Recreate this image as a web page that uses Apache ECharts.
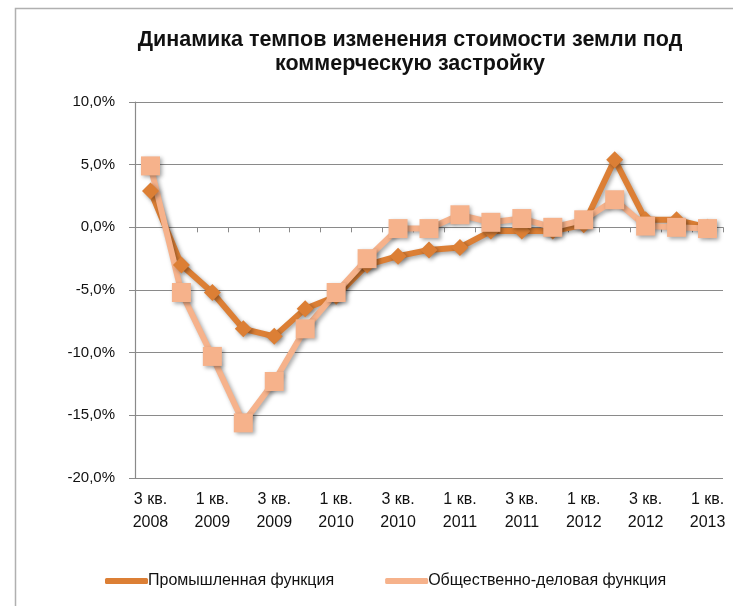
<!DOCTYPE html>
<html><head><meta charset="utf-8">
<script src="https://cdn.jsdelivr.net/npm/echarts@6/dist/echarts.min.js"></script>
<style>html,body{margin:0;padding:0;background:#fff}#c{width:733px;height:606px}</style>
</head><body><div id="c"></div>
<script>
var titleText = 'Динамика темпов изменения стоимости земли под\nкоммерческую застройку';
var categories = ['3 кв.\n2008','4 кв.\n2008','1 кв.\n2009','2 кв.\n2009','3 кв.\n2009','4 кв.\n2009',
  '1 кв.\n2010','2 кв.\n2010','3 кв.\n2010','4 кв.\n2010','1 кв.\n2011','2 кв.\n2011','3 кв.\n2011',
  '4 кв.\n2011','1 кв.\n2012','2 кв.\n2012','3 кв.\n2012','4 кв.\n2012','1 кв.\n2013'];
var seriesNames = ['Промышленная функция','Общественно-деловая функция'];
var industrial = [2.9,-3.0,-5.2,-8.1,-8.7,-6.5,-5.5,-3.0,-2.3,-1.8,-1.6,-0.3,-0.3,-0.3,0.2,5.4,0.6,0.6,0.0];
var business   = [4.9,-5.2,-10.3,-15.6,-12.3,-8.1,-5.2,-2.5,-0.1,-0.1,1.0,0.4,0.7,0.0,0.6,2.2,0.1,0.0,-0.1];
var yMin = -20, yMax = 10, yStep = 5;

var chart = echarts.init(document.getElementById('c'), null, {renderer:'canvas'});
var labelFont = 'Liberation Sans, Arial, sans-serif';
var shadow = {shadowColor:'rgba(0,0,0,0.35)', shadowBlur:4, shadowOffsetX:2, shadowOffsetY:2};
chart.setOption({
  animation:false,
  backgroundColor:'#fff',
  graphic:[
    {type:'rect', shape:{x:15.5,y:8.5,width:800,height:700}, style:{fill:'none',stroke:'#b0b0b0',lineWidth:1.5}, silent:true},
    {type:'text', x:410, y:28, style:{text:titleText, fill:'#111', font:'bold 21.5px "Liberation Sans", Arial, sans-serif', textAlign:'center', lineHeight:24}}
  ],
  grid:{left:135, right:10, top:102, bottom:128, containLabel:false},
  legend:{
    left:100, top:568, itemWidth:43, itemHeight:6, itemGap:51, icon:'roundRect',
    textStyle:{fontFamily:labelFont, fontSize:16, color:'#111', padding:[0,0,0,-5]},
    data:seriesNames
  },
  xAxis:[
    {type:'category', data:categories, boundaryGap:true, position:'bottom',
     axisLine:{show:false, onZero:false}, axisTick:{show:false}, splitLine:{show:false},
     axisLabel:{interval:1, margin:10, fontFamily:labelFont, fontSize:16, color:'#111', lineHeight:23}},
    {type:'category', data:categories, boundaryGap:true, position:'bottom',
     axisLine:{show:true, onZero:true, lineStyle:{color:'#8a8a8a', width:1.2}},
     axisTick:{show:true, interval:0, length:5, lineStyle:{color:'#8a8a8a'}},
     axisLabel:{show:false}, splitLine:{show:false}}
  ],
  yAxis:{type:'value', min:yMin, max:yMax, interval:yStep,
    axisLine:{show:true, lineStyle:{color:'#8a8a8a', width:1.2}},
    axisTick:{show:true, length:6, lineStyle:{color:'#8a8a8a'}},
    splitLine:{show:true, lineStyle:{color:'#8a8a8a', width:1.2}},
    axisLabel:{margin:20, fontFamily:labelFont, fontSize:15, color:'#111',
      formatter:function(v){return v.toFixed(1).replace('.',',')+'%';}}
  },
  series:[
    {name:seriesNames[0], type:'line', data:industrial, xAxisIndex:0,
     symbol:'diamond', symbolSize:17, color:'#DC7F35',
     lineStyle:Object.assign({width:6, color:'#DC7F35'}, shadow),
     itemStyle:Object.assign({color:'#DC7F35'}, shadow)},
    {name:seriesNames[1], type:'line', data:business, xAxisIndex:0,
     symbol:'rect', symbolSize:19, color:'#F6B28B',
     lineStyle:Object.assign({width:6, color:'#F6B28B'}, shadow),
     itemStyle:Object.assign({color:'#F6B28B'}, shadow)}
  ]
});
</script></body></html>
